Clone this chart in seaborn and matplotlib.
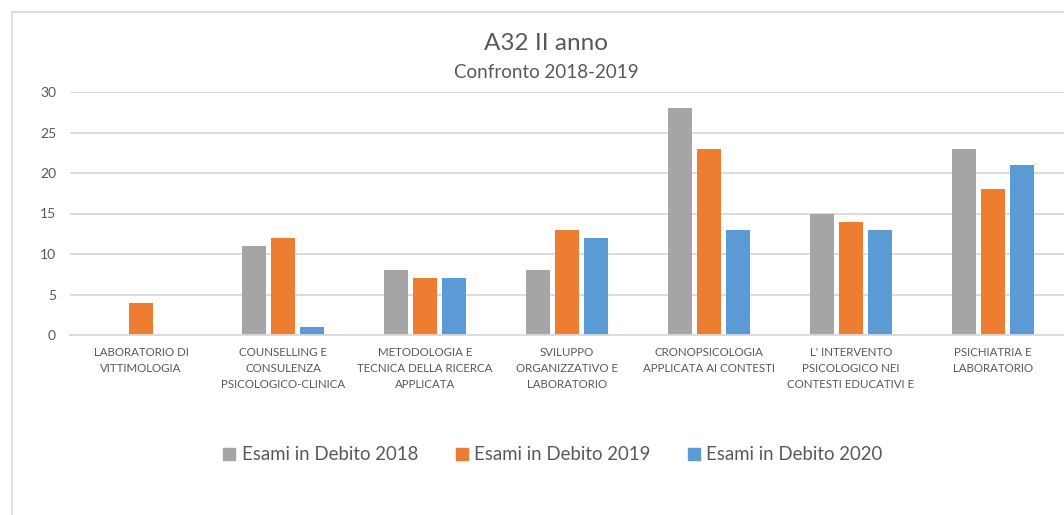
import pandas as pd
import seaborn as sns
import matplotlib.pyplot as plt
from matplotlib.patches import Patch
from matplotlib.lines import Line2D

# data
courses = ["LABORATORIO DI\nVITTIMOLOGIA",
           "COUNSELLING E\nCONSULENZA\nPSICOLOGICO-CLINICA",
           "METODOLOGIA E\nTECNICA DELLA RICERCA\nAPPLICATA",
           "SVILUPPO\nORGANIZZATIVO E\nLABORATORIO",
           "CRONOPSICOLOGIA\nAPPLICATA AI CONTESTI",
           "L' INTERVENTO\nPSICOLOGICO NEI\nCONTESTI EDUCATIVI E",
           "PSICHIATRIA E\nLABORATORIO"]
debito_2018 = [0, 11, 8, 8, 28, 15, 23]
debito_2019 = [4, 12, 7, 13, 23, 14, 18]
debito_2020 = [0, 1, 7, 12, 13, 13, 21]
series_names = ["Esami in Debito 2018", "Esami in Debito 2019",
                "Esami in Debito 2020"]
colors = ["#A5A5A5", "#ED7D31", "#5B9BD5"]

TEXT = "#595959"
GRID = "#D9D9D9"


def build_frame():
    """long format table for seaborn"""
    rows = []
    for name, vals in zip(series_names,
                          [debito_2018, debito_2019, debito_2020]):
        for c, v in zip(courses, vals):
            rows.append({"Corso": c, "Serie": name, "Esami": v})
    return pd.DataFrame(rows)


def main():
    sns.set_theme(style="white")
    plt.rcParams['font.family'] = ['Lato', 'DejaVu Sans']

    df = build_frame()
    fig = plt.figure(figsize=(10.64, 5.15), dpi=100)
    ax = fig.add_axes([70 / 1064, 1 - 335 / 515, 1 - 70 / 1064,
                       (335 - 92) / 515])

    sns.barplot(data=df, x="Corso", y="Esami", hue="Serie",
                palette=colors, width=0.62, ax=ax, legend=False,
                saturation=1, errorbar=None)

    # Excel-like gaps between bars in a group
    for p in ax.patches:
        w = p.get_width()
        cx = p.get_x() + w / 2
        p.set_width(w * 0.82)
        p.set_x(cx - w * 0.41)
        p.set_linewidth(0)

    ax.set_ylim(0, 30)
    ax.set_xlim(-0.5, len(courses) - 0.5)
    ax.set_yticks(range(0, 31, 5))
    ax.yaxis.grid(True, color=GRID, linewidth=1.3)
    ax.set_axisbelow(True)
    for s in ["top", "right", "left"]:
        ax.spines[s].set_visible(False)
    ax.spines["bottom"].set_color(GRID)
    ax.spines["bottom"].set_linewidth(1.3)
    ax.set_xlabel("")
    ax.set_ylabel("")
    ax.tick_params(axis="both", length=0, colors=TEXT)
    ax.tick_params(axis="y", labelsize=10, pad=10)
    ax.tick_params(axis="x", labelsize=8.3, pad=9)
    for lab in ax.get_xticklabels():
        lab.set_linespacing(1.55)

    # titles
    fig.text(546 / 1064, 1 - 43 / 515, "A32 II anno", ha="center",
             va="center", fontsize=17.5, color=TEXT)
    fig.text(546 / 1064, 1 - 72 / 515, "Confronto 2018-2019", ha="center",
             va="center", fontsize=13.5, color=TEXT)

    # chart border (cut at the right and bottom)
    fig.add_artist(Line2D([12 / 1064, 12 / 1064], [0, 1 - 12 / 515],
                          color=GRID, linewidth=1.2))
    fig.add_artist(Line2D([12 / 1064, 1], [1 - 12 / 515, 1 - 12 / 515],
                          color=GRID, linewidth=1.2))

    handles = [Patch(color=c, label=n) for c, n in zip(colors, series_names)]
    leg = fig.legend(handles=handles, loc="center", ncol=3,
                     bbox_to_anchor=(553 / 1064, 1 - 455 / 515),
                     frameon=False, fontsize=13.4, handlelength=0.65,
                     handleheight=0.65, handletextpad=0.35,
                     columnspacing=2.0)
    for t in leg.get_texts():
        t.set_color(TEXT)

    fig.savefig("out.png", dpi=100)


if __name__ == "__main__":
    main()
